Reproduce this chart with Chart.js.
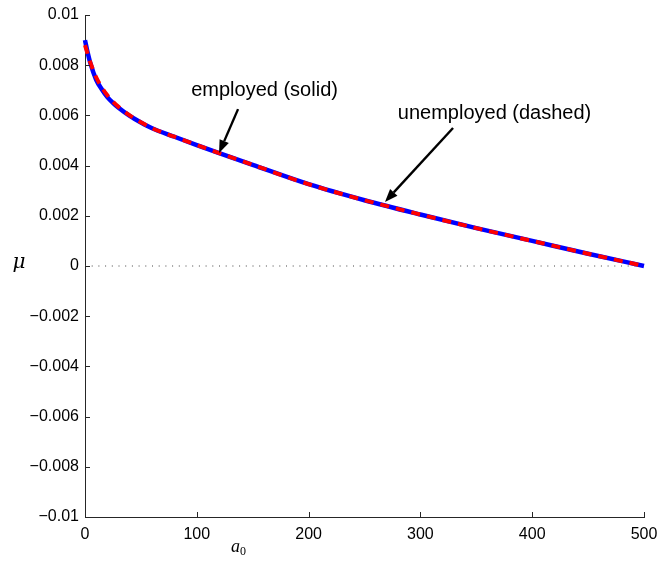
<!DOCTYPE html>
<html>
<head>
<meta charset="utf-8">
<script src="https://cdn.jsdelivr.net/npm/chart.js@4/dist/chart.umd.min.js"></script>
<style>html,body{margin:0;padding:0;background:#fff;}canvas{display:block;}</style>
</head>
<body>
<canvas id="c" width="660" height="562"></canvas>
<script>
// ---- data ----
const xValues = [0, 2, 5, 10, 15, 20, 25, 30, 40, 50, 60, 80, 100, 120, 150, 200, 250, 300, 350, 400, 450, 500];
const employed = [0.00900, 0.00858, 0.00805, 0.00742, 0.00704, 0.00673, 0.00650, 0.00630, 0.00598, 0.00572, 0.00549, 0.00515, 0.00482, 0.00450, 0.00403, 0.00326, 0.00262, 0.00205, 0.00151, 0.00100, 0.00049, 0.0];
const unemployed = [0.00880, 0.00850, 0.00808, 0.00752, 0.00712, 0.00680, 0.00655, 0.00634, 0.00600, 0.00573, 0.00549, 0.00515, 0.00482, 0.00450, 0.00403, 0.00326, 0.00262, 0.00205, 0.00151, 0.00100, 0.00049, 0.0];
const zeroLineX = [0, 500];
const zeroLineY = [0, 0];

const xTicks = [0, 100, 200, 300, 400, 500];
const xTickLabels = ['0', '100', '200', '300', '400', '500'];
const yTicks = [-0.01, -0.008, -0.006, -0.004, -0.002, 0, 0.002, 0.004, 0.006, 0.008, 0.01];
const yTickLabels = ['\u22120.01', '\u22120.008', '\u22120.006', '\u22120.004', '\u22120.002', '0', '0.002', '0.004', '0.006', '0.008', '0.01'];

// annotations (data coordinates)
const noteLabels = ['employed (solid)', 'unemployed (dashed)'];
const noteTextX = [160.6, 366.3];
const noteTextY = [0.00701, 0.00606];
const arrowTailX = [136.9, 329.2];
const arrowTailY = [0.00625, 0.0055];
const arrowTipX = [119.9, 268.3];
const arrowTipY = [0.0045, 0.00255];

const toPts = (xs, ys) => xs.map((x, i) => ({x: x, y: ys[i]}));

const inwardTicks = {
  id: 'inwardTicks',
  afterDraw(chart) {
    const ctx = chart.ctx, xs = chart.scales.x, ys = chart.scales.y, a = chart.chartArea;
    ctx.save();
    ctx.strokeStyle = '#262626';
    ctx.lineWidth = 1;
    ctx.beginPath();
    xTicks.forEach(v => {
      const px = Math.round(xs.getPixelForValue(v)) + 0.5;
      ctx.moveTo(px, a.bottom); ctx.lineTo(px, a.bottom - 5);
    });
    yTicks.forEach(v => {
      const py = Math.round(ys.getPixelForValue(v)) + 0.5;
      ctx.moveTo(a.left, py); ctx.lineTo(a.left + 5, py);
    });
    ctx.stroke();

    // annotations
    ctx.fillStyle = '#000';
    ctx.strokeStyle = '#000';
    ctx.font = '20px "Liberation Sans", Arial, sans-serif';
    ctx.textAlign = 'center';
    ctx.textBaseline = 'middle';
    noteLabels.forEach((t, i) => {
      ctx.fillText(t, xs.getPixelForValue(noteTextX[i]), ys.getPixelForValue(noteTextY[i]));
      const x0 = xs.getPixelForValue(arrowTailX[i]), y0 = ys.getPixelForValue(arrowTailY[i]);
      const x1 = xs.getPixelForValue(arrowTipX[i]), y1 = ys.getPixelForValue(arrowTipY[i]);
      const ang = Math.atan2(y1 - y0, x1 - x0);
      const hl = 13, hw = 5;
      const bx = x1 - hl * Math.cos(ang), by = y1 - hl * Math.sin(ang);
      ctx.lineWidth = 2.4;
      ctx.beginPath(); ctx.moveTo(x0, y0); ctx.lineTo(bx, by); ctx.stroke();
      ctx.beginPath();
      ctx.moveTo(x1, y1);
      ctx.lineTo(bx + hw * Math.sin(ang), by - hw * Math.cos(ang));
      ctx.lineTo(bx - hw * Math.sin(ang), by + hw * Math.cos(ang));
      ctx.closePath(); ctx.fill();
    });

    // axis labels
    ctx.font = 'italic 20px "DejaVu Serif", "Liberation Serif", serif';
    ctx.textAlign = 'center';
    ctx.textBaseline = 'middle';
    ctx.fillText('\u03BC', a.left - 66, ys.getPixelForValue(0) - 3);
    ctx.font = 'italic 18px "Liberation Serif", serif';
    ctx.textAlign = 'left';
    ctx.textBaseline = 'alphabetic';
    const ax = 231, ay = a.bottom + 35;
    ctx.fillText('a', ax, ay);
    ctx.font = '12px "Liberation Serif", serif';
    ctx.fillText('0', ax + 9, ay + 3);
    ctx.restore();
  }
};

new Chart(document.getElementById('c'), {
  type: 'line',
  data: {
    datasets: [
      {
        label: 'unemployed (dashed)',
        data: toPts(xValues, unemployed),
        borderColor: '#ff0000',
        borderWidth: 4,
        borderDash: [9, 7],
        pointRadius: 0,
        cubicInterpolationMode: 'monotone',
        clip: false,
        order: 0
      },
      {
        label: 'employed (solid)',
        data: toPts(xValues, employed),
        borderColor: '#0000ff',
        borderWidth: 4.5,
        pointRadius: 0,
        cubicInterpolationMode: 'monotone',
        clip: false,
        order: 1
      },
      {
        label: 'zero',
        data: toPts(zeroLineX, zeroLineY),
        borderColor: '#444',
        borderWidth: 1,
        borderDash: [1, 5.7],
        pointRadius: 0,
        order: 2
      }
    ]
  },
  options: {
    responsive: false,
    animation: false,
    devicePixelRatio: 1,
    layout: { autoPadding: false, padding: { top: 15, right: 16, left: 0, bottom: 0 } },
    plugins: { legend: { display: false }, tooltip: { enabled: false } },
    scales: {
      x: {
        type: 'linear',
        min: 0, max: 500,
        afterBuildTicks: s => { s.ticks = xTicks.map(v => ({ value: v })); },
        afterFit: s => { s.height = 45; s.paddingLeft = 0; s.paddingRight = 0; },
        grid: { display: false, drawTicks: false },
        border: { display: true, color: '#262626', width: 1 },
        ticks: {
          autoSkip: false, maxRotation: 0, padding: 8, color: '#000',
          font: { family: '"Liberation Sans", Arial, sans-serif', size: 16 },
          callback: (v, i) => xTickLabels[i]
        }
      },
      y: {
        type: 'linear',
        min: -0.01, max: 0.01,
        afterBuildTicks: s => { s.ticks = yTicks.map(v => ({ value: v })); },
        afterFit: s => { s.width = 85; s.paddingTop = 0; s.paddingBottom = 0; },
        grid: { display: false, drawTicks: false },
        border: { display: true, color: '#262626', width: 1 },
        ticks: {
          autoSkip: false, padding: 6, color: '#000',
          font: { family: '"Liberation Sans", Arial, sans-serif', size: 16 },
          callback: (v, i) => yTickLabels[i]
        }
      }
    }
  },
  plugins: [inwardTicks]
});
</script>
</body>
</html>
